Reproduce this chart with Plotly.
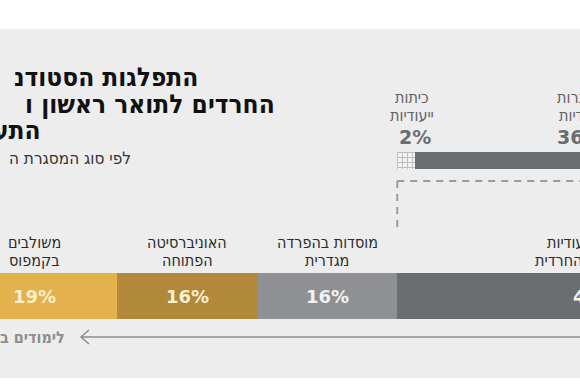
import plotly.graph_objects as go

# ---------------- data ----------------
main_categories = ["משולבים<br>בקמפוס", "האוניברסיטה<br>הפתוחה",
                   "מוסדות בהפרדה<br>מגדרית", "מסגרות ייעודיות<br>לאוכלוסייה החרדית"]
main_values = [19, 16, 16, 45]
main_colors = ["#e3b24c", "#b2883a", "#8e9093", "#6a6e71"]
main_text_colors = ["#fbefd0", "#fbefd0", "#f2f2f2", "#f5f5f5"]

detail_categories = ["כיתות<br>ייעודיות", "מסגרות<br>חרדיות"]
detail_values = [2, 36]

title_lines = ["התפלגות הסטודנ", "החרדים לתואר ראשון ו", "התע"]
subtitle = "לפי סוג המסגרת ה"
arrow_label = "לימודים ב"

# ---------------- layout constants ----------------
W, H = 580, 386
PX_PER_PCT = 8.75
START_PX = -49.0           # pixel where the main bar starts (off canvas)
x0 = -START_PX / PX_PER_PCT
x1 = x0 + W / PX_PER_PCT


def to_paper(v):
    """convert a data value on the x scale to paper coordinates"""
    return (v - x0) / (x1 - x0)


MAIN_Y, MAIN_H = 296, 46
TOP_Y, TOP_H = 160.5, 17

HEB = "DejaVu Sans Condensed, DejaVu Sans, sans-serif"
NUM = "DejaVu Sans, sans-serif"

fig = go.Figure()

# main stacked bar
cum = 0
main_starts = []
for cat, v, c in zip(main_categories, main_values, main_colors):
    main_starts.append(cum)
    fig.add_trace(go.Bar(
        orientation="h", x=[v], base=[cum], y=[MAIN_Y], width=[MAIN_H],
        marker=dict(color=c, line=dict(width=0)),
        hoverinfo="skip", showlegend=False,
    ))
    cum += v

# detail bar starts at the last main segment
detail_start = main_starts[-1]
cum = detail_start
detail_starts = []
for i, v in enumerate(detail_values):
    detail_starts.append(cum)
    if i == 0:
        marker = dict(color="#f3f3f3",
                      pattern=dict(shape="+", fgcolor="#858585", bgcolor="#f3f3f3",
                                   size=5, solidity=0.35),
                      line=dict(width=0))
    else:
        marker = dict(color="#6a6e71", line=dict(width=0))
    fig.add_trace(go.Bar(
        orientation="h", x=[v], base=[cum], y=[TOP_Y], width=[TOP_H],
        marker=marker, hoverinfo="skip", showlegend=False,
    ))
    cum += v

annotations = []

# percentage labels and category labels on main bar
for cat, s, v, tc in zip(main_categories, main_starts, main_values, main_text_colors):
    cx = to_paper(s + v / 2)
    annotations.append(dict(
        x=cx, y=MAIN_Y, xref="paper", yref="y", text=f"<b>{v}%</b>", showarrow=False,
        xanchor="center", yanchor="middle",
        font=dict(family=NUM, size=18, color=tc),
    ))
    for j, line in enumerate(cat.split("<br>")):
        annotations.append(dict(
            x=cx, y=242 + 18 * j, xref="paper", yref="y", text=line, showarrow=False,
            xanchor="center", yanchor="middle",
            font=dict(family=HEB, size=16, color="#2b2b2b"),
        ))

# detail labels
for i, (cat, s, v) in enumerate(zip(detail_categories, detail_starts, detail_values)):
    if i == 0:
        cx, shift = to_paper(s), 15
        annotations.append(dict(x=to_paper(s), y=137, xref="paper", yref="y",
                                text=f"<b>{v}%</b>", showarrow=False,
                                xanchor="left", yanchor="middle",
                                font=dict(family=NUM, size=19, color="#6a6e71")))
    else:
        cx, shift = to_paper(s + v / 2), 8
        annotations.append(dict(x=cx, y=137, xref="paper", yref="y",
                                text=f"<b>{v}%</b>", showarrow=False,
                                xanchor="center", yanchor="middle", xshift=7,
                                font=dict(family=NUM, size=19, color="#6a6e71")))
    for j, line in enumerate(cat.split("<br>")):
        annotations.append(dict(x=cx, y=97 + 18 * j, xref="paper", yref="y", text=line,
                                showarrow=False, xanchor="center", yanchor="middle",
                                xshift=shift,
                                font=dict(family=HEB, size=16, color="#5f6265")))

# title lines
title_pos = [(200, 77), (277, 104), (43, 130)]
for t, (px, py) in zip(title_lines, title_pos):
    annotations.append(dict(x=px / W, y=py, xref="paper", yref="y", text=f"<b>{t}</b>",
                            showarrow=False, xanchor="right", yanchor="middle",
                            font=dict(family=HEB, size=26, color="#111111")))
annotations.append(dict(x=133 / W, y=158, xref="paper", yref="y", text=subtitle, showarrow=False,
                        xanchor="right", yanchor="middle",
                        font=dict(family=HEB, size=17, color="#333333")))
annotations.append(dict(x=67 / W, y=337, xref="paper", yref="y", text=f"<b>{arrow_label}</b>",
                        showarrow=False, xanchor="right", yanchor="middle",
                        font=dict(family=HEB, size=16, color="#8e8e8e")))

shapes = [
    # grey background panel
    dict(type="rect", xref="paper", yref="y", x0=0, x1=1, y0=29, y1=378,
         fillcolor="#ededed", line=dict(width=0), layer="below"),
    # dashed bracket
    dict(type="line", xref="x", yref="y", x0=detail_start, x1=x1 + 2, y0=181, y1=181,
         line=dict(color="#9b9b9b", width=2, dash="7px,6px")),
    dict(type="line", xref="x", yref="y", x0=detail_start, x1=detail_start, y0=181, y1=227,
         line=dict(color="#9b9b9b", width=2, dash="7px,6px")),
    # arrow
    dict(type="line", xref="paper", yref="y", x0=82 / W, x1=1.01, y0=337, y1=337,
         line=dict(color="#8d8d8d", width=1.5)),
    dict(type="path", xref="paper", yref="y",
         path=f"M {89/W},{330} L {81/W},{337} L {89/W},{344}",
         line=dict(color="#8d8d8d", width=1.5)),
]

fig.update_layout(
    width=W, height=H, margin=dict(l=0, r=0, t=0, b=0),
    paper_bgcolor="white", plot_bgcolor="rgba(0,0,0,0)",
    barmode="overlay", bargap=0,
    xaxis=dict(range=[x0, x1], visible=False, fixedrange=True),
    yaxis=dict(range=[H, 0], visible=False, fixedrange=True),
    annotations=annotations, shapes=shapes,
)

fig.write_html("out.html", config={"displayModeBar": False},
               post_script="document.body.style.margin='0px';document.body.style.overflow='hidden';")
